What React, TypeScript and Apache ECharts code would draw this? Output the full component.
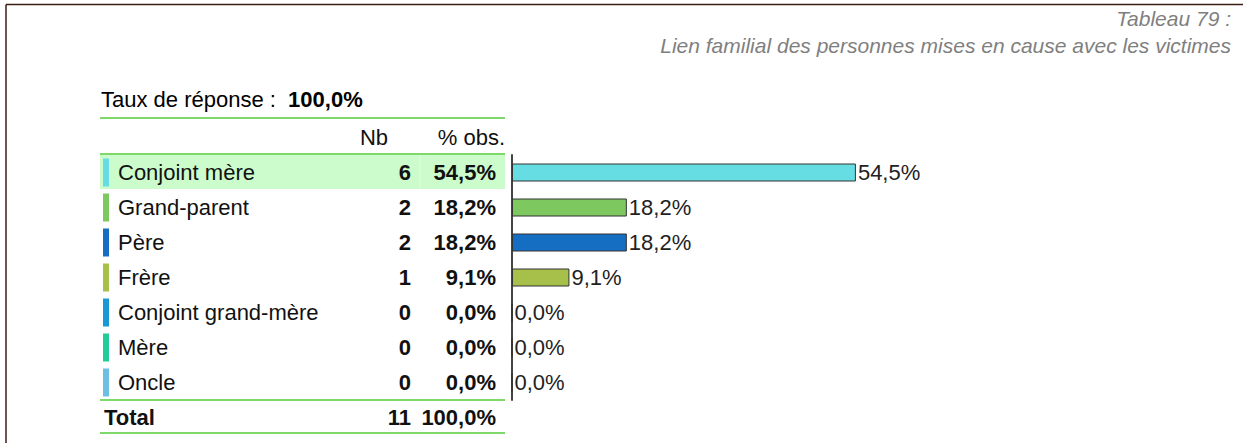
import React, { useEffect, useRef } from "react";
import * as echarts from "echarts";

const categories = ["Conjoint mère", "Grand-parent", "Père", "Frère", "Conjoint grand-mère", "Mère", "Oncle"];
const counts = [6, 2, 2, 1, 0, 0, 0];
const percents = [54.5, 18.2, 18.2, 9.1, 0.0, 0.0, 0.0];
const barColors = ["#66dde3", "#7dc95f", "#166ec2", "#a6c04a", "#1899d6", "#22cc99", "#6cbfe2"];
const totalCount = 11;
const totalPercent = 100.0;
const responseRate = 100.0;
const titleLines = ["Tableau 79 :", "Lien familial des personnes mises en cause avec les victimes"];

const fmt = (v: number) => v.toFixed(1).replace(".", ",") + "%";
const FONT = "Liberation Sans, Arial, sans-serif";
const GREEN = "#7ed96a";
const FS = 22;

export default function App() {
  const ref = useRef<HTMLDivElement>(null);
  useEffect(() => {
    const chart = echarts.init(ref.current!, undefined, { renderer: "svg" });
    const rich: any = { t: { fontSize: FS, fontFamily: FONT, color: "#111", padding: [0, 0, 0, 9] } };
    barColors.forEach((c, i) => {
      rich["m" + i] = { backgroundColor: c, width: 6, height: 28 };
    });
    const line = (y: number) => ({
      type: "line",
      shape: { x1: 100, y1: y, x2: 505, y2: y },
      style: { stroke: GREEN, lineWidth: 2 },
      z: 10,
    });
    chart.setOption({
      animation: false,
      grid: { left: 512, top: 155, width: 631, height: 245, containLabel: false },
      xAxis: { type: "value", min: 0, max: 100, show: false },
      yAxis: [
        {
          type: "category",
          data: categories,
          inverse: true,
          axisLine: { show: true, lineStyle: { color: "#444", width: 2 } },
          axisTick: { show: false },
          axisLabel: {
            show: true,
            align: "left",
            margin: 409,
            formatter: (v: string) => {
              const i = categories.indexOf(v);
              return `{m${i}|}{t|${v}}`;
            },
            rich,
          },
        },
        {
          type: "category",
          data: categories,
          inverse: true,
          position: "left",
          axisLine: { show: false },
          axisTick: { show: false },
          axisLabel: {
            align: "right",
            margin: 101,
            fontSize: FS,
            fontWeight: "bold",
            fontFamily: FONT,
            color: "#111",
            formatter: (v: string) => String(counts[categories.indexOf(v)]),
          },
        },
        {
          type: "category",
          data: categories,
          inverse: true,
          position: "left",
          axisLine: { show: false },
          axisTick: { show: false },
          axisLabel: {
            align: "right",
            margin: 16,
            fontSize: FS,
            fontWeight: "bold",
            fontFamily: FONT,
            color: "#111",
            formatter: (v: string) => fmt(percents[categories.indexOf(v)]),
          },
        },
      ],
      series: [
        {
          type: "bar",
          data: percents.map((p, i) => ({ value: p, itemStyle: { color: barColors[i] } })),
          barWidth: 18,
          itemStyle: { borderColor: "#333", borderWidth: 1 },
          label: {
            show: true,
            position: "right",
            distance: 2,
            fontSize: FS,
            fontFamily: FONT,
            color: "#222",
            formatter: (p: any) => fmt(p.value),
          },
        },
      ],
      graphic: [
        {
          type: "rect",
          shape: { x: 100, y: 155, width: 405, height: 34 },
          style: { fill: "#ccfccc" },
          z: -10,
        },
        {
          type: "line",
          shape: { x1: 420, y1: 155, x2: 420, y2: 189 },
          style: { stroke: "#dcffdc", lineWidth: 1 },
          z: -9,
        },
        {
          type: "line",
          shape: { x1: 6, y1: 443, x2: 6, y2: 4.5 },
          style: { stroke: "#3d1c12", lineWidth: 1.5 },
        },
        {
          type: "line",
          shape: { x1: 6, y1: 4.5, x2: 1243, y2: 4.5 },
          style: { stroke: "#3d1c12", lineWidth: 1.5 },
        },
        {
          type: "text",
          x: 1231,
          y: 18,
          style: {
            text: titleLines[0],
            align: "right",
            verticalAlign: "middle",
            fontSize: 21,
            fontStyle: "italic",
            fontFamily: FONT,
            fill: "#7f7f7f",
          },
        },
        {
          type: "text",
          x: 1231,
          y: 45,
          style: {
            text: titleLines[1],
            align: "right",
            verticalAlign: "middle",
            fontSize: 21,
            fontStyle: "italic",
            fontFamily: FONT,
            fill: "#7f7f7f",
          },
        },
        {
          type: "text",
          x: 101,
          y: 99,
          style: {
            text: "{a|Taux de réponse :  }{b|" + fmt(responseRate) + "}",
            verticalAlign: "middle",
            rich: {
              a: { fontSize: FS, fontFamily: FONT, color: "#111" },
              b: { fontSize: FS, fontFamily: FONT, fontWeight: "bold", color: "#111" },
            },
          },
        },
        line(118),
        {
          type: "text",
          x: 388,
          y: 137,
          style: { text: "Nb", align: "right", verticalAlign: "middle", fontSize: FS, fontFamily: FONT, fill: "#111" },
        },
        {
          type: "text",
          x: 505,
          y: 137,
          style: { text: "% obs.", align: "right", verticalAlign: "middle", fontSize: FS, fontFamily: FONT, fill: "#111" },
        },
        line(154),
        line(400),
        {
          type: "text",
          x: 104,
          y: 417,
          style: { text: "Total", verticalAlign: "middle", fontSize: FS, fontWeight: "bold", fontFamily: FONT, fill: "#111" },
        },
        {
          type: "text",
          x: 411,
          y: 417,
          style: { text: String(totalCount), align: "right", verticalAlign: "middle", fontSize: FS, fontWeight: "bold", fontFamily: FONT, fill: "#111" },
        },
        {
          type: "text",
          x: 496,
          y: 417,
          style: { text: fmt(totalPercent), align: "right", verticalAlign: "middle", fontSize: FS, fontWeight: "bold", fontFamily: FONT, fill: "#111" },
        },
        line(433),
      ],
    });
    return () => chart.dispose();
  }, []);
  return (
    <div
      ref={ref}
      style={{ position: "fixed", left: 0, top: 0, width: 1243, height: 443, background: "#fff" }}
    />
  );
}
